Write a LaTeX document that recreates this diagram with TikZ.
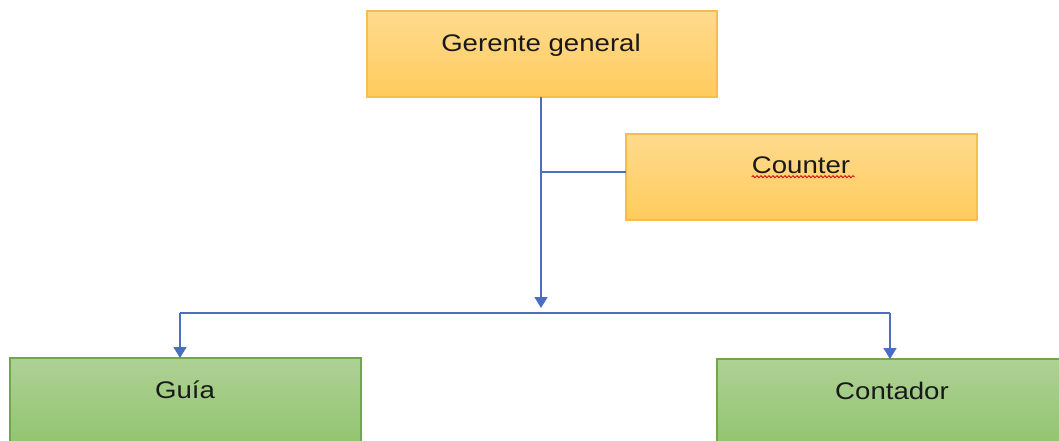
\documentclass[tikz,border=0pt]{standalone}
\usepackage{fontspec}
\setmainfont{Liberation Sans}
\usetikzlibrary{arrows.meta,decorations.pathmorphing}
\definecolor{otop}{HTML}{FFDA8E}
\definecolor{obot}{HTML}{FFCB5C}
\definecolor{oline}{HTML}{F2C04A}
\definecolor{gtop}{HTML}{AED195}
\definecolor{gbot}{HTML}{92C46F}
\definecolor{gline}{HTML}{72A54E}
\definecolor{conn}{HTML}{4A6FC0}
\tikzset{
  obox/.style={draw=oline, line width=1.2pt, top color=otop, bottom color=obot},
  gbox/.style={draw=gline, line width=1.2pt, top color=gtop, bottom color=gbot},
  lbl/.style={font=\fontsize{24}{28}\selectfont, text=black!90, inner sep=0pt, xscale=1.15},
  cline/.style={draw=conn, line width=1.5pt},
  carrow/.style={cline, -{Triangle[width=13pt,length=11pt]}}
}
\begin{document}
\begin{tikzpicture}[x=1pt,y=-1pt]
\useasboundingbox (0,0) rectangle (1059,441);
% boxes
\path[obox] (367,11) rectangle (717,97);
\path[obox] (626,134) rectangle (977,220);
\path[gbox] (10,358) rectangle (361,446);
\path[gbox] (717,359) rectangle (1065,446);
\node[lbl] (gg) at (541,45) {Gerente general};
\node[lbl] (ct) at (801,165) {Counter};
\node[lbl] (gu) at (185,390) {Guía};
\node[lbl] (co) at (892,391) {Contador};
\coordinate (gbot) at (541,97);
\coordinate (cleft) at (626,172);
\coordinate (brk) at (541,172);
\coordinate (hub) at (541,308);
\coordinate (hl) at (180,313);
\coordinate (hr) at (890,313);
\coordinate (gutop) at (180,358);
\coordinate (cotop) at (890,359);
% connectors
\draw[carrow] (gbot) -- (hub);
\draw[cline] (brk) -- (cleft);
\draw[cline] (gutop |- hl) -- (hr);
\draw[carrow] (hl) -- (gutop);
\draw[carrow] (hr) -- (cotop);
% spell-check underline
\draw[red!80!black, line width=0.8pt, decorate, decoration={snake, amplitude=1pt, segment length=4pt}]
  (ct.south west) ++(0,3) -- ++(103,0);
\end{tikzpicture}
\end{document}
